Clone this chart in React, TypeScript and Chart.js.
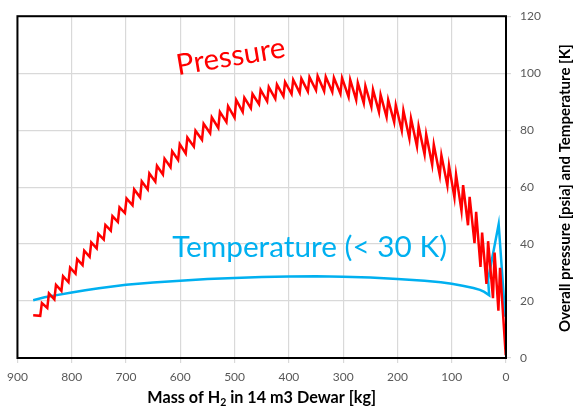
import React, { useEffect, useRef } from "react";
import { Chart, registerables } from "chart.js";

Chart.register(...registerables);

// Axis ranges / ticks
const X_MIN = 0;
const X_MAX = 900;
const X_STEP = 100;
const Y_MIN = 0;
const Y_MAX = 120;
const Y_STEP = 20;

// Pressure (psia) sawtooth: start point, then for each tooth the low point (start of heating)
// and the peak reached just after it, then the final point.
const pressureStartMass = 871;
const pressureStartValue = 15.0;
const toothMass = [
  858, 845, 832, 819, 806, 793, 780, 767, 754, 741,
  728, 715, 702, 688, 674, 660, 646, 632, 618, 604,
  590, 575, 560, 545, 530, 515, 500, 485, 470, 455,
  440, 425, 410, 395, 380, 365, 350, 335, 320, 305,
  290, 276, 262, 248, 234, 220, 206, 192, 178, 164,
  150, 136, 122, 108, 95, 82, 70, 58, 47, 36,
  24, 14,
];
const toothLow = [
  14.8, 17.6, 20.6, 23.6, 26.6, 29.6, 32.6, 35.5, 38.5, 41.6,
  44.7, 47.8, 50.9, 53.6, 56.4, 59.2, 61.9, 64.4, 67.0, 69.5,
  71.8, 74.2, 76.6, 78.9, 80.8, 82.8, 84.4, 86.4, 87.7, 89.1,
  90.1, 91.0, 91.9, 92.7, 93.1, 93.6, 94.0, 93.7, 93.4, 92.8,
  91.7, 90.6, 89.5, 88.2, 86.4, 84.6, 82.8, 79.9, 77.1, 74.3,
  71.5, 67.9, 64.2, 60.6, 56.4, 51.7, 46.6, 40.3, 32.0, 26.0,
  21.0, 16.6,
];
const toothHigh = [
  19.3, 22.7, 25.7, 28.7, 31.7, 34.7, 37.7, 40.6, 43.6, 46.7,
  49.8, 52.9, 56.0, 59.2, 62.0, 64.8, 67.5, 70.0, 72.6, 75.1,
  77.4, 79.8, 82.2, 84.5, 86.4, 88.4, 90.6, 91.4, 92.7, 94.1,
  95.1, 96.0, 96.9, 97.7, 98.1, 98.6, 99.0, 98.7, 98.4, 98.3,
  97.7, 96.6, 95.5, 94.2, 92.4, 90.6, 88.8, 86.9, 84.1, 81.3,
  78.5, 74.9, 71.2, 67.6, 64.4, 60.7, 56.6, 51.3, 44.0, 41.0,
  37.0, 31.7,
];
const toothRiseMass = 3; // kg consumed while a tooth rises
const pressureEndMass = 0.5;
const pressureEndValue = 1.0;

// Temperature (K)
const tempMass = [
  871, 850, 833, 800, 775, 750, 725, 700, 650, 600, 550, 500,
  450, 400, 350, 300, 250, 200, 150, 120, 100, 80,
  60, 48, 40, 31, 33, 13.5, 1.5,
];
const tempValues = [
  20.3, 21.3, 21.9, 23.0, 23.8, 24.5, 25.1, 25.7, 26.5, 27.1, 27.7, 28.1,
  28.4, 28.6, 28.7, 28.5, 28.3, 27.7, 27.1, 26.6, 26.1, 25.4,
  24.6, 23.9, 23.2, 22.0, 27.5, 47.0, 14.5,
];

// Texts
const xTitleMain = "Mass of H";
const xTitleSub = "2";
const xTitleRest = " in 14 m3 Dewar [kg]";
const yTitle = "Overall pressure [psia] and Temperature [K]";
const pressureLabel = "Pressure";
const temperatureLabel = "Temperature (< 30 K)";

// Annotation anchors (data units)
const pressureLabelAt = { mass: 604, value: 99.3 };
const temperatureLabelAt = { mass: 615, value: 35.3 };

const RED = "#FF0000";
const BLUE = "#00B0F0";
const FONT = "Lato, 'Open Sans', sans-serif";

function fitSize(ctx: CanvasRenderingContext2D, text: string, weight: string, width: number) {
  ctx.font = `${weight} 100px ${FONT}`;
  const w = ctx.measureText(text).width;
  return (100 * width) / w;
}

const decoPlugin = {
  id: "deco",
  afterDraw(chart: any) {
    const { ctx, chartArea: a, scales } = chart;
    const xs = scales.x;
    const ys = scales.y;
    ctx.save();
    // plot box
    ctx.strokeStyle = "#000";
    ctx.lineWidth = 2;
    ctx.strokeRect(a.left, a.top, a.right - a.left, a.bottom - a.top);

    // Pressure label (rotated)
    {
      const size = fitSize(ctx, pressureLabel, "normal", 110);
      ctx.font = `normal ${size}px ${FONT}`;
      ctx.fillStyle = RED;
      ctx.textBaseline = "alphabetic";
      ctx.textAlign = "left";
      ctx.save();
      ctx.translate(xs.getPixelForValue(pressureLabelAt.mass), ys.getPixelForValue(pressureLabelAt.value));
      ctx.rotate((-9.5 * Math.PI) / 180);
      ctx.fillText(pressureLabel, 0, 0);
      ctx.restore();
    }
    // Temperature label
    {
      const size = fitSize(ctx, temperatureLabel, "normal", 275);
      ctx.font = `normal ${size}px ${FONT}`;
      ctx.fillStyle = BLUE;
      ctx.textBaseline = "alphabetic";
      ctx.textAlign = "left";
      ctx.fillText(
        temperatureLabel,
        xs.getPixelForValue(temperatureLabelAt.mass),
        ys.getPixelForValue(temperatureLabelAt.value)
      );
    }
    // X title with subscript
    {
      ctx.fillStyle = "#000";
      ctx.textBaseline = "alphabetic";
      ctx.textAlign = "left";
      const measure = (size: number) => {
        ctx.font = `bold ${size}px ${FONT}`;
        const w1 = ctx.measureText(xTitleMain).width;
        const w3 = ctx.measureText(xTitleRest).width;
        ctx.font = `bold ${size * 0.65}px ${FONT}`;
        const w2 = ctx.measureText(xTitleSub).width;
        return [w1, w2, w3];
      };
      const ref = measure(100);
      const size = (100 * 229) / (ref[0] + ref[1] + ref[2]);
      const [w1, w2, w3] = measure(size);
      const total = w1 + w2 + w3;
      const cx = (a.left + a.right) / 2;
      let x = cx - total / 2;
      const base = 403;
      ctx.font = `bold ${size}px ${FONT}`;
      ctx.fillText(xTitleMain, x, base);
      x += w1;
      ctx.font = `bold ${size * 0.65}px ${FONT}`;
      ctx.fillText(xTitleSub, x, base + 3);
      x += w2;
      ctx.font = `bold ${size}px ${FONT}`;
      ctx.fillText(xTitleRest, x, base);
    }
    // Y title rotated (reads bottom to top)
    {
      const size = fitSize(ctx, yTitle, "bold", 288);
      ctx.font = `bold ${size}px ${FONT}`;
      ctx.fillStyle = "#000";
      ctx.textAlign = "center";
      ctx.textBaseline = "middle";
      ctx.save();
      ctx.translate(565, (a.top + a.bottom) / 2 + 1);
      ctx.rotate(-Math.PI / 2);
      ctx.fillText(yTitle, 0, 0);
      ctx.restore();
    }
    ctx.restore();
  },
};

export default function App() {
  const ref = useRef<HTMLCanvasElement | null>(null);
  useEffect(() => {
    if (!ref.current) return;
    const pressureData: { x: number; y: number }[] = [{ x: pressureStartMass, y: pressureStartValue }];
    toothMass.forEach((m, i) => {
      pressureData.push({ x: m, y: toothLow[i] });
      pressureData.push({ x: m - toothRiseMass, y: toothHigh[i] });
    });
    pressureData.push({ x: pressureEndMass, y: pressureEndValue });
    const tempData = tempMass.map((m, i) => ({ x: m, y: tempValues[i] }));

    const chart = new Chart(ref.current, {
      type: "line",
      data: {
        datasets: [
          {
            label: "Pressure",
            data: pressureData,
            borderColor: RED,
            borderWidth: 2.5,
            pointRadius: 0,
            tension: 0,
            fill: false,
          },
          {
            label: "Temperature",
            data: tempData,
            borderColor: BLUE,
            borderWidth: 2.5,
            pointRadius: 0,
            tension: 0,
            fill: false,
          },
        ],
      },
      options: {
        responsive: false,
        animation: false,
        devicePixelRatio: 1,
        layout: { padding: { left: 17, top: 12, right: 0, bottom: 0 } },
        plugins: { legend: { display: false }, tooltip: { enabled: false } },
        scales: {
          x: {
            type: "linear",
            reverse: true,
            min: X_MIN,
            max: X_MAX,
            ticks: {
              stepSize: X_STEP,
              color: "#595959",
              font: { family: FONT, size: 12 },
              padding: 7,
              maxRotation: 0,
            },
            grid: { color: "#d9d9d9", lineWidth: 1.2, tickLength: 5 },
            border: { display: false },
            afterFit: (s: any) => {
              s.height = 50;
            },
          },
          y: {
            type: "linear",
            position: "right",
            min: Y_MIN,
            max: Y_MAX,
            ticks: {
              stepSize: Y_STEP,
              color: "#595959",
              font: { family: FONT, size: 12 },
              padding: 9,
            },
            grid: { color: "#d9d9d9", lineWidth: 1.2, tickLength: 5 },
            border: { display: false },
            afterFit: (s: any) => {
              s.width = 68;
            },
          },
        },
      },
      plugins: [decoPlugin],
    });
    return () => chart.destroy();
  }, []);

  return (
    <div style={{ position: "absolute", left: 0, top: 0, width: 574, height: 408, background: "#fff" }}>
      <canvas ref={ref} width={574} height={408} style={{ width: 574, height: 408, display: "block" }} />
    </div>
  );
}
